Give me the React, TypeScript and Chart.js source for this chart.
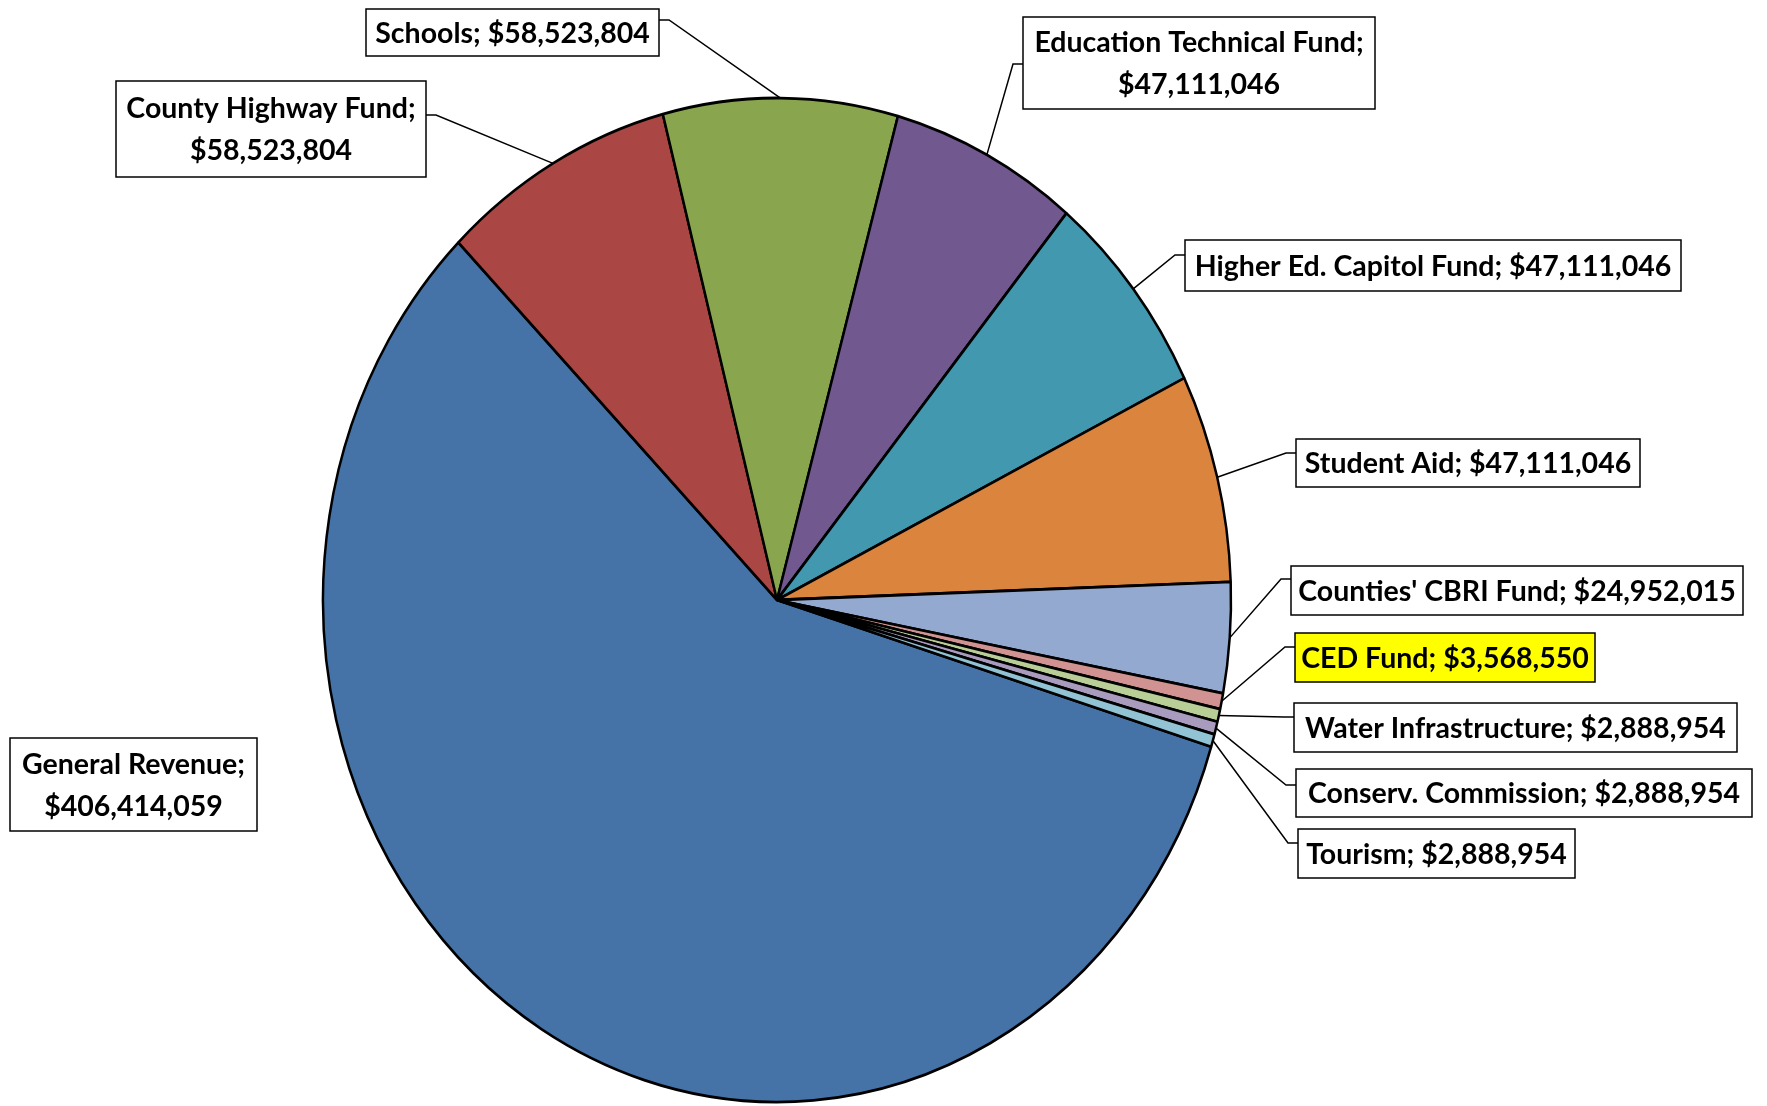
import { useEffect, useRef } from "react";
import { Chart, registerables } from "chart.js";

Chart.register(...registerables);

// ---- data ----
const categories = [
  "General Revenue",
  "County Highway Fund",
  "Schools",
  "Education Technical Fund",
  "Higher Ed. Capitol Fund",
  "Student Aid",
  "Counties' CBRI Fund",
  "CED Fund",
  "Water Infrastructure",
  "Conserv. Commission",
  "Tourism",
];
const amounts = [
  406414059, 58523804, 58523804, 47111046, 47111046, 47111046, 24952015,
  3568550, 2888954, 2888954, 2888954,
];
const sliceColors = [
  "#4572A7", "#AA4643", "#89A54E", "#71588F", "#4198AF", "#DB843D",
  "#93A9CF", "#D19392", "#B9CD96", "#A99BBD", "#92C3D5",
];
const twoLineLabel = [true, true, false, true, false, false, false, false, false, false, false];
const labelFill = ["#fff", "#fff", "#fff", "#fff", "#fff", "#fff", "#fff", "#FFFF00", "#fff", "#fff", "#fff"];

// ---- layout (label boxes) ----
const boxLeft = [10, 116, 366, 1023, 1185, 1296, 1291, 1295, 1294, 1296, 1298];
const boxTop = [738, 81, 9, 17, 240, 439, 566, 633, 703, 769, 829];
const boxWidth = [247, 310, 293, 352, 496, 344, 452, 300, 443, 456, 277];
const boxHeight = [93, 96, 47, 92, 51, 48, 49, 49, 49, 48, 49];
const attachY: (number | null)[] = [null, 115, 20, 64, 255, 453, 579, 647, 717, 785, 843];

const Y_STRETCH = 502 / 454;
const FONT = "bold 28.5px Lato, 'Open Sans', sans-serif";

const fmt = (v: number) => "$" + v.toLocaleString("en-US");

const ellipsePlugin = {
  id: "ellipse",
  beforeDatasetsDraw(chart: any) {
    const arc = chart.getDatasetMeta(0).data[0];
    const ctx = chart.ctx;
    ctx.save();
    ctx.translate(arc.x, arc.y);
    ctx.scale(1, Y_STRETCH);
    ctx.translate(-arc.x, -arc.y);
  },
  afterDatasetsDraw(chart: any) {
    chart.ctx.restore();
  },
};

const calloutPlugin = {
  id: "callouts",
  afterDraw(chart: any) {
    const ctx = chart.ctx;
    const arcs = chart.getDatasetMeta(0).data;
    ctx.save();
    arcs.forEach((arc: any, i: number) => {
      const { x, y, startAngle, endAngle, outerRadius } = arc.getProps(
        ["x", "y", "startAngle", "endAngle", "outerRadius"],
        true
      );
      const mid = (startAngle + endAngle) / 2;
      const px = x + outerRadius * Math.cos(mid);
      const py = y + Y_STRETCH * outerRadius * Math.sin(mid);
      const ay = attachY[i];
      if (ay !== null) {
        const rightSide = boxLeft[i] > px;
        const edgeX = rightSide ? boxLeft[i] : boxLeft[i] + boxWidth[i];
        const elbowX = rightSide ? edgeX - 10 : edgeX + 10;
        ctx.beginPath();
        ctx.moveTo(px, py);
        ctx.lineTo(elbowX, ay);
        ctx.lineTo(edgeX, ay);
        ctx.strokeStyle = "#000";
        ctx.lineWidth = 1.5;
        ctx.stroke();
      }
    });
    arcs.forEach((_: any, i: number) => {
      const bx = boxLeft[i];
      const by = boxTop[i];
      const bw = boxWidth[i];
      const bh = boxHeight[i];
      ctx.fillStyle = labelFill[i];
      ctx.fillRect(bx, by, bw, bh);
      ctx.strokeStyle = "#000";
      ctx.lineWidth = 1.5;
      ctx.strokeRect(bx, by, bw, bh);
      const lines = twoLineLabel[i]
        ? [categories[i] + ";", fmt(amounts[i])]
        : [categories[i] + "; " + fmt(amounts[i])];
      ctx.font = FONT;
      ctx.fillStyle = "#000";
      ctx.textAlign = "center";
      ctx.textBaseline = "middle";
      const cxText = bx + bw / 2;
      const cyText = by + bh / 2;
      const lh = 42;
      lines.forEach((t, j) => {
        const off = (j - (lines.length - 1) / 2) * lh;
        ctx.fillText(t, cxText, cyText + off + 1);
      });
    });
    ctx.restore();
  },
};

export default function App() {
  const canvasRef = useRef<HTMLCanvasElement | null>(null);

  useEffect(() => {
    const canvas = canvasRef.current;
    if (!canvas) return;
    const chart = new Chart(canvas, {
      type: "pie",
      data: {
        labels: categories,
        datasets: [
          {
            data: amounts,
            backgroundColor: sliceColors,
            borderColor: "#000",
            borderWidth: 2.5,
            radius: 454,
          } as any,
        ],
      },
      options: {
        responsive: false,
        animation: false,
        rotation: 107,
        layout: { padding: { left: 0, right: 213, top: 94, bottom: 0 } },
        plugins: {
          legend: { display: false },
          tooltip: { enabled: false },
        },
      },
      plugins: [ellipsePlugin, calloutPlugin],
    });
    return () => chart.destroy();
  }, []);

  return (
    <div style={{ position: "absolute", left: 0, top: 0, width: 1767, height: 1106, background: "#fff" }}>
      <canvas ref={canvasRef} width={1767} height={1106} style={{ display: "block" }} />
    </div>
  );
}
